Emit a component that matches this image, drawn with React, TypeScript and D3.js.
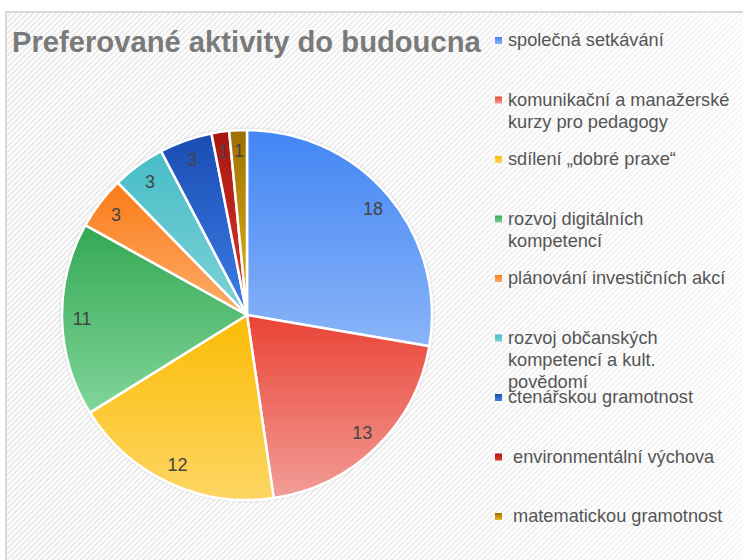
import React from "react";
import * as d3 from "d3";

const categories = [
  "společná setkávání",
  "komunikační a manažerské kurzy pro pedagogy",
  "sdílení „dobré praxe“",
  "rozvoj digitálních kompetencí",
  "plánování investičních akcí",
  "rozvoj občanských kompetencí a kult. povědomí",
  "čtenářskou gramotnost",
  " environmentální výchova",
  " matematickou gramotnost",
];
const legendLines = [
  ["společná setkávání"],
  ["komunikační a manažerské", "kurzy pro pedagogy"],
  ["sdílení „dobré praxe“"],
  ["rozvoj digitálních", "kompetencí"],
  ["plánování investičních akcí"],
  ["rozvoj občanských", "kompetencí a kult.", "povědomí"],
  ["čtenářskou gramotnost"],
  [" environmentální výchova"],
  [" matematickou gramotnost"],
];
const values = [18, 13, 12, 11, 3, 3, 3, 1, 1];
const topColors = ["#4285f4", "#ea4335", "#fbbc04", "#34a853", "#fa7b17", "#46bdc6", "#1a4db3", "#a8160f", "#9c6f00"];
const bottomColors = ["#8ab4f8", "#f29d97", "#fdd663", "#81d69a", "#fdac6b", "#80d2d8", "#3d7de8", "#d93a2e", "#e8b820"];
const title = "Preferované aktivity do budoucna";

export default function App() {
  const W = 743, H = 560;
  const cx = 247, cy = 315, R = 185, labelR = 165;
  const pie = d3.pie<number>().sort(null).value((d) => d)(values);
  const arc = d3.arc<d3.PieArcDatum<number>>().innerRadius(0).outerRadius(R);
  const legendY = d3.scaleLinear().domain([0, categories.length - 1]).range([40, 516]);
  const font = "'Liberation Sans', Arial, sans-serif";
  return (
    <svg width={W} height={H} style={{ position: "absolute", left: 0, top: 0, display: "block" }}>
      <defs>
        <pattern id="stripes" width="4" height="4" patternUnits="userSpaceOnUse" patternTransform="rotate(-45)">
          <rect width="4" height="4" fill="#ffffff" />
          <rect width="4" height="1.6" fill="#e6e6e6" />
        </pattern>
        <linearGradient id="fade" x1="0" y1="0" x2="1" y2="0">
          <stop offset="0" stopColor="#fff" stopOpacity="0" />
          <stop offset="0.6" stopColor="#fff" stopOpacity="0.2" />
          <stop offset="1" stopColor="#fff" stopOpacity="0.55" />
        </linearGradient>
        {values.map((_, i) => (
          <linearGradient key={i} id={`g${i}`} x1="0" y1="0" x2="0" y2="1">
            <stop offset="0" stopColor={topColors[i]} />
            <stop offset="1" stopColor={bottomColors[i]} />
          </linearGradient>
        ))}
        <filter id="sh" x="-10%" y="-10%" width="120%" height="120%">
          <feDropShadow dx="0" dy="0" stdDeviation="1.5" floodColor="#000" floodOpacity="0.18" />
        </filter>
      </defs>
      <rect x={6} y={12} width={W} height={H} fill="url(#stripes)" stroke="#d9d9d9" strokeWidth={2} />
      <rect x={7} y={13} width={W} height={H} fill="url(#fade)" />
      <text x={12} y={52} fontFamily={font} fontWeight="bold" fontSize={29.2} fill="#7a7a7a">
        {title}
      </text>
      <g transform={`translate(${cx},${cy})`}>
        <circle r={R + 1} fill="#fff" filter="url(#sh)" />
        {pie.map((p, i) => (
          <path key={i} d={arc(p) || ""} fill={`url(#g${i})`} stroke="#fff" strokeWidth={2.5} strokeLinejoin="round" />
        ))}
        {pie.map((p, i) => {
          const a = (p.startAngle + p.endAngle) / 2;
          return (
            <text key={i} x={Math.sin(a) * labelR} y={-Math.cos(a) * labelR} dy="0.35em" textAnchor="middle"
              fontFamily={font} fontSize={18} fill="#444444">
              {values[i]}
            </text>
          );
        })}
      </g>
      <g>
        {categories.map((c, i) => {
          const y = legendY(i);
          return (
            <g key={i}>
              <rect x={495} y={y - 3} width={7} height={7} fill={`url(#g${i})`} />
              <text x={508} y={y + 6} fontFamily={font} fontSize={18.2} fill="#555555" xmlSpace="preserve" style={{ whiteSpace: "pre" }}>
                {legendLines[i].map((l, j) => (
                  <tspan key={j} x={508} dy={j === 0 ? 0 : 22}>{l}</tspan>
                ))}
              </text>
            </g>
          );
        })}
      </g>
    </svg>
  );
}
